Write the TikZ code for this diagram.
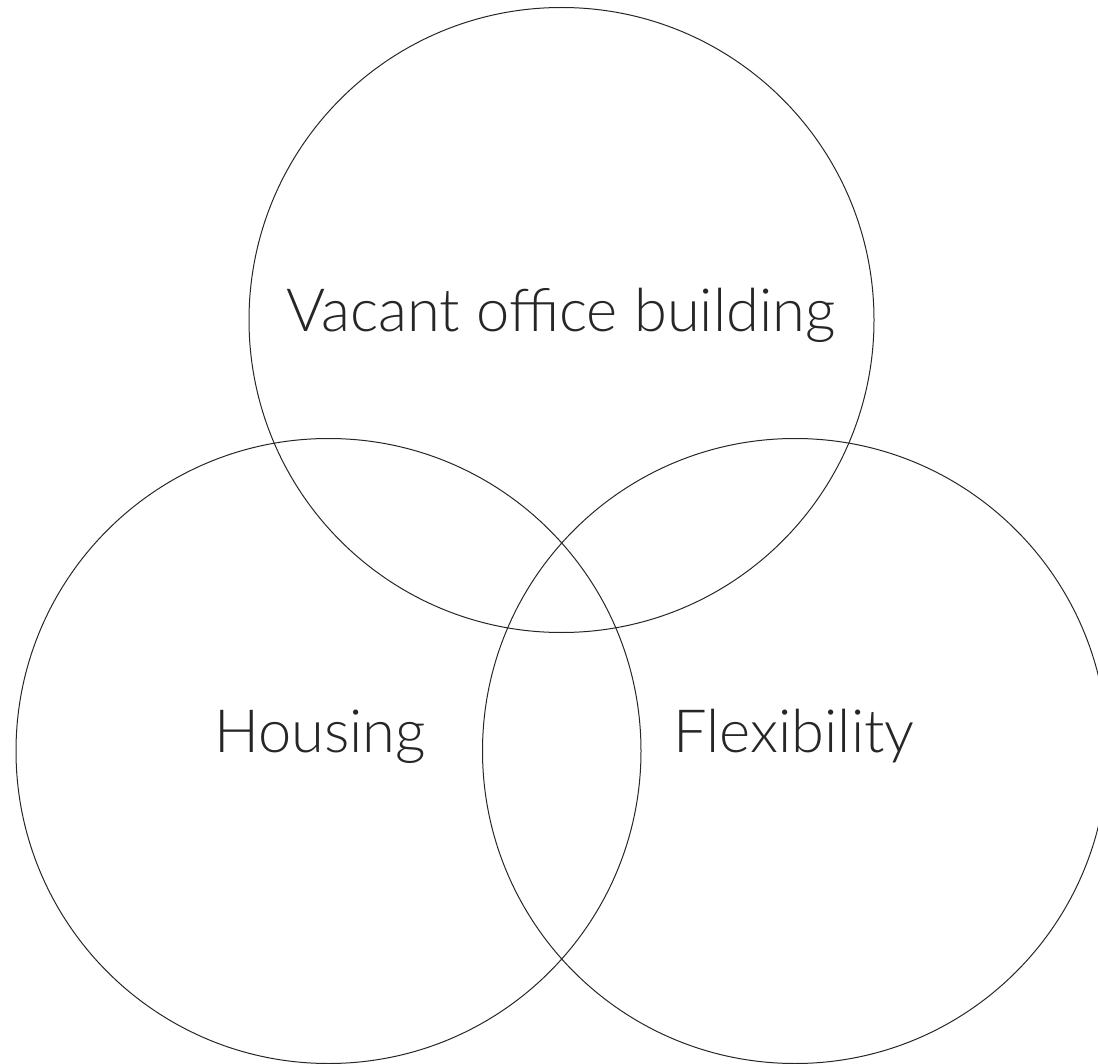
\documentclass[tikz,border=0pt]{standalone}
\usepackage{fontspec}
\setmainfont{Lato Light}
\usepackage{tikz}
\usetikzlibrary{positioning}

\begin{document}
\begin{tikzpicture}[
            x=0.5pt, y=-0.5pt,
            set/.style={
                circle, 
                draw=black!85, 
                line width=0.5pt, 
                inner sep=0pt, 
                minimum size=312.5pt
            },
            setlabel/.style={
                anchor=base, 
                inner sep=0pt, 
                text=black!85, 
                font=\fontsize{29.8}{34}\selectfont
            }
        ]
        
        % Canvas
        \clip (0,0) rectangle (1098,1064);
        
        % Circles
        \node (office) [set] at (561.5,320) {};
        \node (housing) [set] at (328.5,751) {};
        \node (flex) [set] at (795,751) {};
        
        % Labels of the circles
        \node (officelabel) [setlabel] at (561,332) {Vacant office building};
        \node (housinglabel) [setlabel] at (320,752) {Housing};
        \node (flexlabel) [setlabel] at (794,752) {Flexibility};
        
        \end{tikzpicture}
\end{document}
